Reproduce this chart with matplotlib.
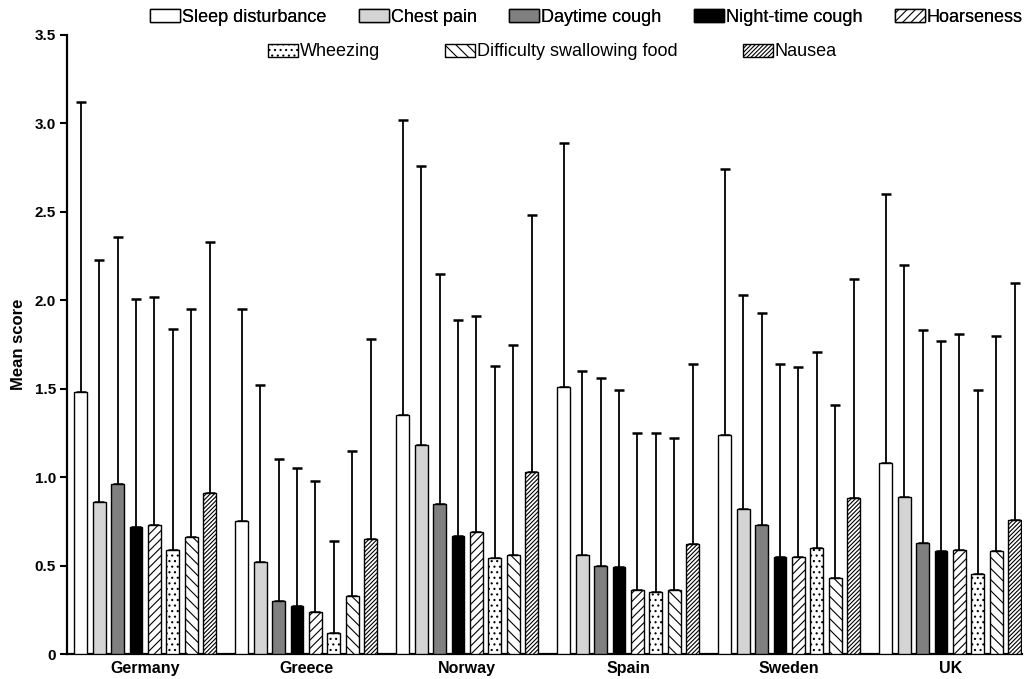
import numpy as np
import matplotlib
matplotlib.use('Agg')
import matplotlib.pyplot as plt

plt.rcParams['font.family'] = ['Liberation Sans', 'DejaVu Sans']
plt.rcParams['hatch.linewidth'] = 0.8

# Date
countries = ['Germany', 'Greece', 'Norway', 'Spain', 'Sweden', 'UK']
symptoms = ['Sleep disturbance', 'Chest pain', 'Daytime cough', 'Night-time cough',
            'Hoarseness', 'Wheezing', 'Difficulty swallowing food', 'Nausea']

# medii (rand = tara, coloana = simptom)
germany_mean = [1.48, 0.86, 0.96, 0.72, 0.73, 0.59, 0.66, 0.91]
greece_mean = [0.75, 0.52, 0.30, 0.27, 0.24, 0.12, 0.33, 0.65]
norway_mean = [1.35, 1.18, 0.85, 0.67, 0.69, 0.54, 0.56, 1.03]
spain_mean = [1.51, 0.56, 0.50, 0.49, 0.36, 0.35, 0.36, 0.62]
sweden_mean = [1.24, 0.82, 0.73, 0.55, 0.55, 0.60, 0.43, 0.88]
uk_mean = [1.08, 0.89, 0.63, 0.58, 0.59, 0.45, 0.58, 0.76]

# deviatii standard (doar bara de eroare superioara)
germany_sd = [1.64, 1.37, 1.40, 1.29, 1.29, 1.25, 1.29, 1.42]
greece_sd = [1.20, 1.00, 0.80, 0.78, 0.74, 0.52, 0.82, 1.13]
norway_sd = [1.67, 1.58, 1.30, 1.22, 1.22, 1.09, 1.19, 1.45]
spain_sd = [1.38, 1.04, 1.06, 1.00, 0.89, 0.90, 0.86, 1.02]
sweden_sd = [1.50, 1.21, 1.20, 1.09, 1.07, 1.11, 0.98, 1.24]
uk_sd = [1.52, 1.31, 1.20, 1.19, 1.22, 1.04, 1.22, 1.34]

means = np.array([germany_mean, greece_mean, norway_mean, spain_mean, sweden_mean, uk_mean])
sds = np.array([germany_sd, greece_sd, norway_sd, spain_sd, sweden_sd, uk_sd])

colors = ['white', '#d4d4d4', '#808080', 'black', 'white', 'white', 'white', 'white']
hatches = [None, None, None, None, '////', '...', '\\\\\\', '/' * 8]

fig = plt.figure(figsize=(10.27, 6.79), dpi=100)
ax = fig.add_axes([67 / 1027, 1 - 654 / 679, 955 / 1027, 619 / 679])

group_pitch = 8.75
width = 0.7
handles = []
for i in range(len(symptoms)):
    x = np.arange(len(countries)) * group_pitch + i + width / 2
    h = ax.bar(x, means[:, i], width=width, color=colors[i], edgecolor='black',
               linewidth=1.0, hatch=hatches[i], zorder=3, label=symptoms[i])
    ax.errorbar(x, means[:, i], yerr=[np.zeros(len(countries)), sds[:, i]], fmt='none',
                ecolor='black', elinewidth=1.3, capsize=3.8, capthick=1.8, zorder=2)
    handles.append(h)

ax.set_xlim(-0.4, 51.5)
ax.set_ylim(0, 3.5)
ax.set_yticks(np.arange(0, 3.51, 0.5))
ax.set_yticklabels(['0', '0.5', '1.0', '1.5', '2.0', '2.5', '3.0', '3.5'], fontweight='bold', fontsize=11)
ax.set_xticks(np.arange(len(countries)) * group_pitch + 3.85)
ax.set_xticklabels(countries, fontweight='bold', fontsize=11.5)
ax.tick_params(axis='x', length=0, pad=5)
ax.tick_params(axis='y', length=5, width=1.5, pad=3)
ax.set_ylabel('Mean score', fontweight='bold', fontsize=12, labelpad=6)
for s in ['top', 'right']:
    ax.spines[s].set_visible(False)
for s in ['left', 'bottom']:
    ax.spines[s].set_linewidth(1.6)

# Legenda pe doua randuri
leg1 = fig.legend(handles[:5], symptoms[:5], loc='center left', bbox_to_anchor=(150 / 1027, 1 - 17 / 679),
                  ncol=5, frameon=False, fontsize=13, handlelength=1.65, handleheight=0.7,
                  handletextpad=0.12, columnspacing=1.8, borderpad=0, borderaxespad=0)
leg2 = fig.legend(handles[5:], symptoms[5:], loc='center left', bbox_to_anchor=(268 / 1027, 1 - 52 / 679),
                  ncol=3, frameon=False, fontsize=13, handlelength=1.65, handleheight=0.7,
                  handletextpad=0.12, columnspacing=3.6, borderpad=0, borderaxespad=0)
fig.add_artist(leg1)

plt.savefig('out.png', dpi=100)
